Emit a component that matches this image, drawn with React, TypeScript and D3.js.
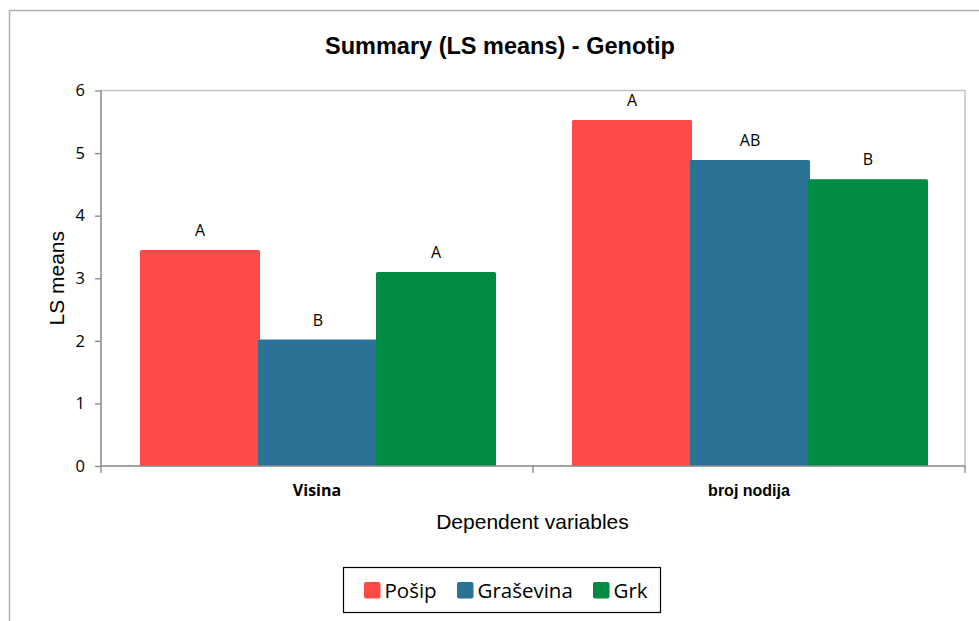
import { useRef, useEffect } from "react";
import * as d3 from "d3";

const categories = ["Visina", "broj nodija"];
const seriesNames = ["Pošip", "Graševina", "Grk"];
const seriesColors = ["#FF4B47", "#2B7396", "#008A42"];
const posipValues = [3.45, 5.53];
const grasevinaValues = [2.02, 4.89];
const grkValues = [3.1, 4.58];
const posipLetters = ["A", "A"];
const grasevinaLetters = ["B", "AB"];
const grkLetters = ["A", "B"];
const yTicks = [0, 1, 2, 3, 4, 5, 6];

const App = () => {
    const ref = useRef<SVGSVGElement>(null);

    useEffect(() => {
        if (!ref.current) return;
        const width = 979;
        const height = 621;
        const marginLeft = 101;
        const marginRight = 14;
        const marginTop = 90.5;
        const bottomY = 466;

        const svg = d3.select(ref.current);
        svg.selectAll("*").remove();
        svg.attr("width", width).attr("height", height);

        svg.append("rect").attr("width", width).attr("height", height).attr("fill", "#fff");

        // outer chart frame (cropped on the right and bottom)
        svg.append("path")
            .attr("d", `M9.5,${height + 2}V10.5H${width + 2}`)
            .attr("fill", "none")
            .attr("stroke", "#B0B0B0")
            .attr("stroke-width", 1.5);

        const values = [posipValues, grasevinaValues, grkValues];
        const letters = [posipLetters, grasevinaLetters, grkLetters];

        const x0 = d3.scaleBand().domain(categories).range([marginLeft, width - marginRight]);
        const gap = 39;
        const x1 = d3.scaleBand().domain(seriesNames).range([gap, x0.bandwidth() - gap]);
        const y = d3.scaleLinear().domain([0, 6]).range([bottomY, marginTop]);

        // plot area border (top / right)
        svg.append("path")
            .attr("d", `M${marginLeft},${y(6)}H${width - marginRight}V${bottomY}`)
            .attr("fill", "none")
            .attr("stroke", "#C4C4C4")
            .attr("stroke-width", 1.5);

        // bars
        const g = svg.append("g");
        categories.forEach((c, ci) => {
            seriesNames.forEach((s, si) => {
                const v = values[si][ci];
                const bx = (x0(c) ?? 0) + (x1(s) ?? 0);
                const bw = x1.bandwidth() + 2;
                g.append("rect")
                    .attr("x", bx)
                    .attr("y", y(v))
                    .attr("width", bw)
                    .attr("height", bottomY - y(v))
                    .attr("rx", 1.5)
                    .attr("fill", seriesColors[si]);
                g.append("text")
                    .attr("x", bx + bw / 2)
                    .attr("y", y(v) - 14)
                    .attr("text-anchor", "middle")
                    .attr("font-family", "'Open Sans', 'Noto Sans', sans-serif")
                    .attr("font-size", 16)
                    .attr("fill", "#000")
                    .text(letters[si][ci]);
            });
        });

        // y axis
        const yAxis = svg.append("g")
            .attr("transform", `translate(${marginLeft},0)`)
            .call(d3.axisLeft(y).tickValues(yTicks).tickSize(6).tickPadding(10).tickFormat(d3.format("d")));
        yAxis.select(".domain").attr("stroke", "#868686").attr("stroke-width", 1.5).attr("d", `M0,${y(6)}V${bottomY}`);
        yAxis.selectAll(".tick line").attr("stroke", "#868686").attr("stroke-width", 1.3);
        yAxis.selectAll(".tick text")
            .attr("font-family", "'Open Sans', 'Noto Sans', sans-serif")
            .attr("font-size", 16.5)
            .attr("fill", "#000");

        // x axis
        const xAxis = svg.append("g")
            .attr("transform", `translate(0,${bottomY})`)
            .call(d3.axisBottom(x0).tickSize(0).tickFormat(() => ""));
        xAxis.select(".domain").attr("stroke", "#868686").attr("stroke-width", 1.5)
            .attr("d", `M${marginLeft},0H${width - marginRight}`);
        const boundaries = [marginLeft, ...categories.map((c) => (x0(c) ?? 0) + x0.bandwidth())];
        xAxis.selectAll(".bound")
            .data(boundaries)
            .join("line")
            .attr("x1", (d) => d)
            .attr("x2", (d) => d)
            .attr("y1", 0)
            .attr("y2", 7)
            .attr("stroke", "#868686")
            .attr("stroke-width", 1.3);

        // category labels
        svg.selectAll(".catLabel")
            .data(categories)
            .join("text")
            .attr("x", (d) => (x0(d) ?? 0) + x0.bandwidth() / 2)
            .attr("y", 496)
            .attr("text-anchor", "middle")
            .attr("font-family", (d, i) => (i === 0 ? "'Open Sans', 'Noto Sans', sans-serif" : "'Liberation Sans', Arial, sans-serif"))
            .attr("font-weight", "bold")
            .attr("font-size", 16)
            .attr("fill", "#000")
            .text((d) => d);

        // title
        svg.append("text")
            .attr("x", 500)
            .attr("y", 54)
            .attr("text-anchor", "middle")
            .attr("font-family", "'Liberation Sans', Arial, sans-serif")
            .attr("font-weight", "bold")
            .attr("font-size", 23.5)
            .attr("fill", "#000")
            .text("Summary (LS means) - Genotip");

        // axis titles
        svg.append("text")
            .attr("x", 532.5)
            .attr("y", 529)
            .attr("text-anchor", "middle")
            .attr("font-family", "'Liberation Sans', Arial, sans-serif")
            .attr("font-size", 21)
            .attr("fill", "#000")
            .text("Dependent variables");

        svg.append("text")
            .attr("transform", `translate(64,${(y(6) + bottomY) / 2}) rotate(-90)`)
            .attr("text-anchor", "middle")
            .attr("font-family", "'Liberation Sans', Arial, sans-serif")
            .attr("font-size", 21)
            .attr("fill", "#000")
            .text("LS means");

        // legend
        const legend = svg.append("g");
        legend.append("rect")
            .attr("x", 343.5)
            .attr("y", 567.5)
            .attr("width", 317)
            .attr("height", 45)
            .attr("fill", "#fff")
            .attr("stroke", "#000")
            .attr("stroke-width", 1.2);
        const legendX = [364, 457, 593];
        seriesNames.forEach((s, i) => {
            legend.append("rect")
                .attr("x", legendX[i])
                .attr("y", 582)
                .attr("width", 16.5)
                .attr("height", 16.5)
                .attr("rx", 2)
                .attr("fill", seriesColors[i]);
            legend.append("text")
                .attr("x", legendX[i] + 20.5)
                .attr("y", 597.5)
                .attr("font-family", "'Open Sans', 'Noto Sans', sans-serif")
                .attr("font-size", 20.5)
                .attr("fill", "#000")
                .text(s);
        });
    });

    return (
        <div style={{ position: "absolute", left: 0, top: 0 }}>
            <svg ref={ref} style={{ display: "block" }}></svg>
        </div>
    );
};

export default App;
